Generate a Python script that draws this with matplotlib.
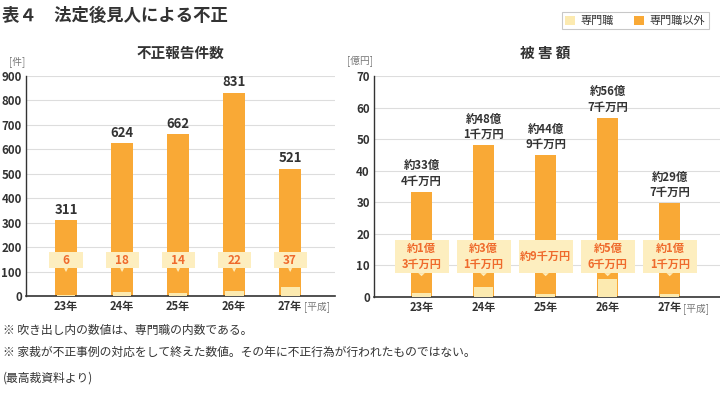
import matplotlib
matplotlib.use("Agg")
import matplotlib.pyplot as plt
from matplotlib.patches import Rectangle, Polygon, Patch

plt.rcParams['font.family'] = ['Noto Sans CJK JP', 'DejaVu Sans']

years = ["23年", "24年", "25年", "26年", "27年"]
cases_total = [311, 624, 662, 831, 521]
cases_prof = [6, 18, 14, 22, 37]
damage_total = [33.4, 48.1, 44.9, 56.7, 29.7]
damage_prof = [1.3, 3.1, 0.9, 5.6, 1.1]
damage_total_labels = ["約33億\n4千万円", "約48億\n1千万円", "約44億\n9千万円", "約56億\n7千万円", "約29億\n7千万円"]
damage_prof_labels = ["約1億\n3千万円", "約3億\n1千万円", "約9千万円", "約5億\n6千万円", "約1億\n1千万円"]

ORANGE = "#F9A936"
LIGHT = "#FCEAB0"
BOX = "#FDEEBF"
RED = "#EF6A2C"
DARK = "#333333"
GRID = "#DDDDDD"
GRAY = "#777777"

fig = plt.figure(figsize=(7.2, 3.98), dpi=100)

def style_axes(ax, ymax, step):
    ax.set_ylim(0, ymax)
    ax.set_yticks(range(0, ymax + 1, step))
    ax.yaxis.grid(True, color=GRID, linewidth=0.8)
    ax.set_axisbelow(True)
    for s in ["top", "right"]:
        ax.spines[s].set_visible(False)
    ax.spines["left"].set_color(DARK)
    ax.spines["bottom"].set_color(DARK)
    ax.spines["left"].set_linewidth(1.0)
    ax.spines["bottom"].set_linewidth(1.2)
    ax.tick_params(axis="y", length=0, colors=DARK, labelsize=8.3, pad=3)
    for t in ax.get_yticklabels():
        t.set_fontweight("bold")
    ax.set_xticks(range(len(years)))
    ax.set_xticklabels(years, fontsize=8, fontweight="bold", color=DARK)
    ax.tick_params(axis="x", length=0, pad=3)

def callout(ax, x, yc, w, h, tip, text, fs):
    ax.add_patch(Rectangle((x - w / 2, yc - h / 2), w, h, facecolor=BOX,
                           edgecolor="none", zorder=4))
    ax.add_patch(Polygon([[x - w * 0.06, yc - h / 2], [x + w * 0.06, yc - h / 2], [x, tip]],
                         closed=True, facecolor=BOX, edgecolor="none", zorder=4))
    ax.text(x, yc, text, ha="center", va="center", color=RED, fontsize=fs,
            fontweight="bold", zorder=5, linespacing=1.25)

# Left chart
ax1 = fig.add_axes([26 / 720, 1 - 296 / 398, 309 / 720, 220 / 398])
x = range(len(years))
w1 = 0.39
ax1.bar(x, cases_total, width=w1, color=ORANGE, zorder=2)
ax1.bar(x, cases_prof, width=w1 * 0.86, color=LIGHT, zorder=3)
style_axes(ax1, 900, 100)
ax1.set_xlim(-0.714, 4.80)
for i, v in enumerate(cases_total):
    ax1.text(i, v + 14, str(v), ha="center", va="bottom", fontsize=9.5,
             fontweight="bold", color=DARK)
    callout(ax1, i, 147, 0.59, 66, 98, str(cases_prof[i]), 8.5)
fig.text(17 / 720, 1 - 62 / 398, "[件]", fontsize=7, color=GRAY,
         ha="center", va="center")
fig.text((26 + 309 / 2) / 720, 1 - 53 / 398, "不正報告件数", fontsize=10.5,
         fontweight="bold", color=DARK, ha="center", va="center")
ax1.text(4.24, -0.05, "[平成]", transform=ax1.get_xaxis_transform(), fontsize=7,
         color=GRAY, ha="left", va="center")

# Right chart
ax2 = fig.add_axes([374 / 720, 1 - 297 / 398, 346 / 720, 221 / 398])
w2 = 0.34
ax2.bar(x, damage_total, width=w2, color=ORANGE, zorder=2)
ax2.bar(x, damage_prof, width=w2 * 0.88, color=LIGHT, zorder=3)
style_axes(ax2, 70, 10)
ax2.set_xlim(-0.766, 4.81)
for i, v in enumerate(damage_total):
    ax2.text(i, v + 1.3, damage_total_labels[i], ha="center", va="bottom",
             fontsize=8.2, fontweight="bold", color=DARK, linespacing=1.25)
    callout(ax2, i, 12.8, 0.87, 10.5, 6.6, damage_prof_labels[i], 8)
fig.text(360 / 720, 1 - 61 / 398, "[億円]", fontsize=7, color=GRAY,
         ha="center", va="center")
fig.text(545 / 720, 1 - 53 / 398, "被 害 額", fontsize=10.5,
         fontweight="bold", color=DARK, ha="center", va="center")
ax2.text(4.22, -0.05, "[平成]", transform=ax2.get_xaxis_transform(), fontsize=7,
         color=GRAY, ha="left", va="center")

# Title
fig.text(2 / 720, 1 - 16 / 398, "表４　法定後見人による不正", fontsize=12.5,
         fontweight="bold", color=DARK, ha="left", va="center")

# Legend
handles = [Patch(facecolor=LIGHT, edgecolor="none", label="専門職"),
           Patch(facecolor=ORANGE, edgecolor="none", label="専門職以外")]
leg = fig.legend(handles=handles, loc="upper right", ncol=2,
                 bbox_to_anchor=(711 / 720, 1 - 10 / 398), frameon=True,
                 fancybox=False, fontsize=8, handlelength=0.9, handleheight=0.9,
                 handletextpad=0.5, columnspacing=1.8, borderpad=0.3,
                 borderaxespad=0.2)
leg.get_frame().set_edgecolor("#BBBBBB")
leg.get_frame().set_linewidth(0.8)
for t in leg.get_texts():
    t.set_color(DARK)

# Footnotes
fig.text(3 / 720, 1 - 330 / 398, "※ 吹き出し内の数値は、専門職の内数である。",
         fontsize=8.5, color=DARK, ha="left", va="center")
fig.text(3 / 720, 1 - 352 / 398,
         "※ 家裁が不正事例の対応をして終えた数値。その年に不正行為が行われたものではない。",
         fontsize=8.5, color=DARK, ha="left", va="center")
fig.text(3 / 720, 1 - 378 / 398, "(最高裁資料より)", fontsize=8.5, color=DARK,
         ha="left", va="center")

fig.savefig("out.png", dpi=100)
